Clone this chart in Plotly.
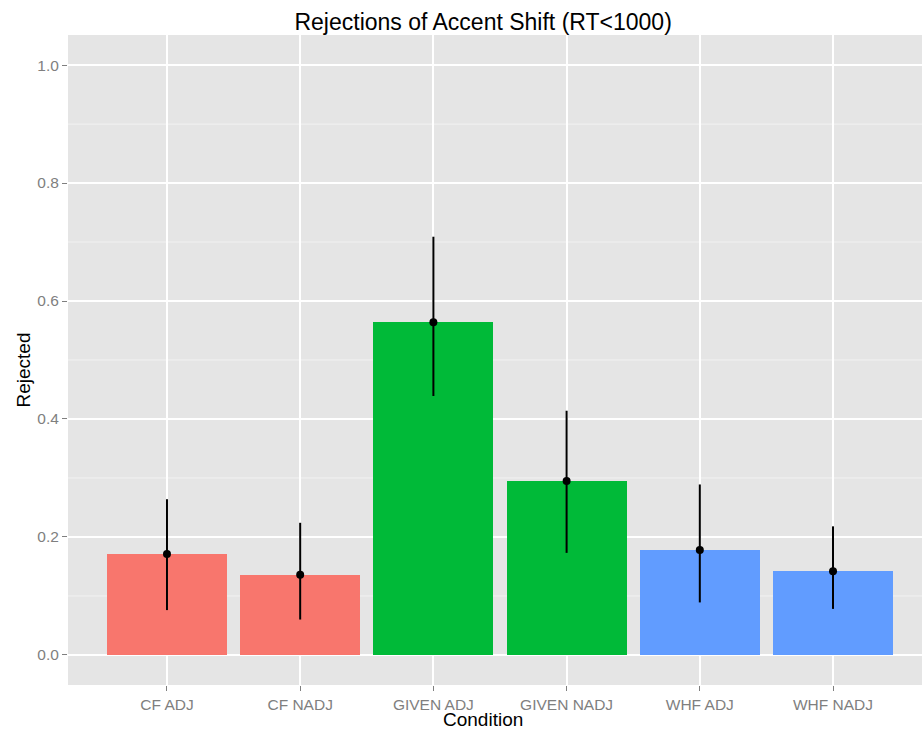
import plotly.graph_objects as go

categories = ["CF ADJ", "CF NADJ", "GIVEN ADJ", "GIVEN NADJ", "WHF ADJ", "WHF NADJ"]
rejected = [0.171, 0.136, 0.564, 0.295, 0.178, 0.142]
err_upper = [0.264, 0.224, 0.709, 0.414, 0.289, 0.218]
err_lower = [0.076, 0.060, 0.439, 0.173, 0.089, 0.078]
bar_colors = ["#F8766D", "#F8766D", "#00BA38", "#00BA38", "#619CFF", "#619CFF"]
y_ticks = [0.0, 0.2, 0.4, 0.6, 0.8, 1.0]
y_tick_labels = ["0.0", "0.2", "0.4", "0.6", "0.8", "1.0"]
minor_lines = [0.1, 0.3, 0.5, 0.7, 0.9]

plus = [u - v for u, v in zip(err_upper, rejected)]
minus = [v - l for v, l in zip(rejected, err_lower)]

fig = go.Figure()
fig.add_trace(go.Bar(
    x=categories, y=rejected, width=0.9,
    marker=dict(color=bar_colors, line=dict(width=0)),
    showlegend=False, hoverinfo="x+y",
))
fig.add_trace(go.Scatter(
    x=categories, y=rejected, mode="markers",
    marker=dict(color="black", size=8),
    error_y=dict(type="data", symmetric=False, array=plus, arrayminus=minus,
                 color="black", thickness=2, width=0),
    showlegend=False,
))

for m in minor_lines:
    fig.add_shape(type="line", xref="paper", x0=0, x1=1, yref="y", y0=m, y1=m,
                  line=dict(color="#F2F2F2", width=1), layer="below")

fig.add_annotation(text="Condition", xref="paper", yref="paper", x=0.486, y=-0.0538,
                   xanchor="center", yanchor="middle", showarrow=False,
                   font=dict(size=19, color="black"))
fig.add_annotation(text="Rejected", xref="paper", yref="paper", x=-0.0521, y=0.4846,
                   xanchor="center", yanchor="middle", showarrow=False, textangle=-90,
                   font=dict(size=19, color="black"))

fig.update_layout(
    width=922, height=731,
    margin=dict(l=68, r=0, t=35, b=46),
    paper_bgcolor="white", plot_bgcolor="#E5E5E5",
    font=dict(family="Liberation Sans, Arial, sans-serif"),
    title=dict(text="Rejections of Accent Shift (RT<1000)", x=0.524, xanchor="center",
               y=0.970, yanchor="middle", font=dict(size=23, color="black")),
    bargap=0,
)
fig.update_xaxes(
    type="category", categoryorder="array", categoryarray=categories,
    range=[-0.743, 5.668],
    showgrid=True, gridcolor="white", gridwidth=1.5,
    ticks="outside", ticklen=5, tickcolor="#7F7F7F", tickwidth=1,
    tickfont=dict(size=15.5, color="#7F7F7F"),
    zeroline=False, showline=False,
)
fig.update_yaxes(
    range=[-0.051, 1.051],
    tickvals=y_ticks, ticktext=y_tick_labels,
    showgrid=True, gridcolor="white", gridwidth=1.5,
    ticks="outside", ticklen=5, tickcolor="#7F7F7F", tickwidth=1,
    tickfont=dict(size=15.5, color="#7F7F7F"),
    zeroline=False, showline=False,
)

fig.write_html("out.html")
